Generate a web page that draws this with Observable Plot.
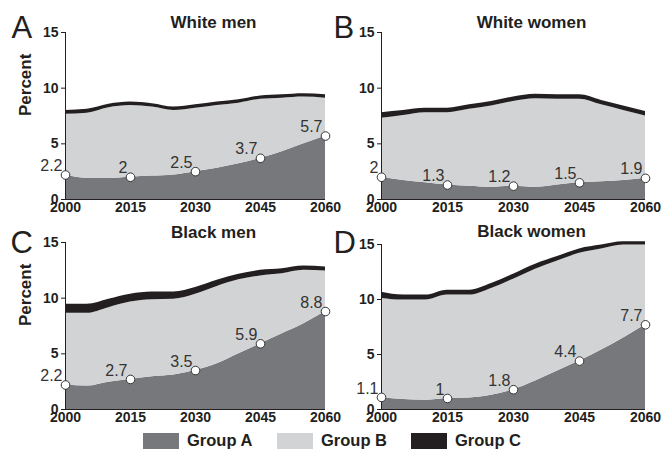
<!DOCTYPE html>
<html>
<head>
<meta charset="utf-8">
<script src="https://cdn.jsdelivr.net/npm/d3@7"></script>
<script src="https://cdn.jsdelivr.net/npm/@observablehq/plot@0.6"></script>
<style>
  html, body { margin: 0; padding: 0; background: #fff; }
  #chart { position: relative; width: 665px; height: 449px; overflow: hidden; font-family: "Liberation Sans", Arial, sans-serif; }
  #chart svg, #chart svg text { font-family: "Liberation Sans", Arial, sans-serif; }
  .panel { position: absolute; }
  .legend { position: absolute; top: 432px; left: 0; width: 665px; height: 17px; }
  .sw { position: absolute; top: 1px; width: 36px; height: 16px; }
  .lt { position: absolute; top: -1px; font-weight: bold; font-size: 16.5px; color: #231f20; line-height: 18px; }
</style>
</head>
<body>
<div id="chart"></div>
<script>
// ---- data ----
const years = [2000, 2005, 2010, 2015, 2020, 2025, 2030, 2035, 2040, 2045, 2050, 2055, 2060];
const labelYears = [2000, 2015, 2030, 2045, 2060];
const groups = ["Group A", "Group B", "Group C"];
const groupColors = ["#77787b", "#d1d3d4", "#231f20"];
const yTicks = [0, 5, 10, 15];

// White men
const whiteMenA = [2.2, 1.9, 1.9, 2.0, 2.1, 2.2, 2.5, 2.8, 3.2, 3.7, 4.3, 5.0, 5.7];
const whiteMenB = [5.45, 5.85, 6.35, 6.45, 6.2, 5.8, 5.7, 5.65, 5.45, 5.3, 4.8, 4.2, 3.4];
const whiteMenC = [0.35, 0.35, 0.3, 0.3, 0.3, 0.3, 0.3, 0.3, 0.3, 0.3, 0.3, 0.3, 0.3];
const whiteMenLabels = [2.2, 2, 2.5, 3.7, 5.7];

// White women
const whiteWomenA = [2.0, 1.7, 1.5, 1.3, 1.2, 1.1, 1.2, 1.1, 1.3, 1.5, 1.6, 1.7, 1.9];
const whiteWomenB = [5.3, 5.85, 6.3, 6.5, 6.9, 7.3, 7.6, 7.95, 7.7, 7.5, 6.9, 6.3, 5.6];
const whiteWomenC = [0.5, 0.45, 0.4, 0.4, 0.4, 0.4, 0.4, 0.4, 0.4, 0.4, 0.4, 0.4, 0.4];
const whiteWomenLabels = [2, 1.3, 1.2, 1.5, 1.9];

// Black men
const blackMenA = [2.2, 2.1, 2.45, 2.7, 2.95, 3.1, 3.5, 4.1, 5.0, 5.9, 6.8, 7.7, 8.8];
const blackMenB = [6.45, 6.55, 6.7, 6.95, 6.9, 6.8, 6.85, 6.95, 6.65, 6.1, 5.4, 4.8, 3.65];
const blackMenC = [0.8, 0.8, 0.75, 0.7, 0.7, 0.65, 0.6, 0.55, 0.5, 0.5, 0.45, 0.4, 0.35];
const blackMenLabels = [2.2, 2.7, 3.5, 5.9, 8.8];

// Black women
const blackWomenA = [1.1, 0.9, 0.85, 1.0, 1.05, 1.3, 1.8, 2.6, 3.5, 4.4, 5.4, 6.5, 7.7];
const blackWomenB = [9.0, 9.05, 9.1, 9.4, 9.35, 9.7, 10.05, 10.15, 10.0, 9.8, 9.2, 8.45, 7.25];
const blackWomenC = [0.55, 0.45, 0.45, 0.45, 0.45, 0.45, 0.45, 0.45, 0.4, 0.4, 0.35, 0.3, 0.3];
const blackWomenLabels = [1.1, 1, 1.8, 4.4, 7.7];

const panels = [
  {letter: "A", title: "White men", a: whiteMenA, b: whiteMenB, c: whiteMenC, labels: whiteMenLabels, ylabel: true},
  {letter: "B", title: "White women", a: whiteWomenA, b: whiteWomenB, c: whiteWomenC, labels: whiteWomenLabels, ylabel: false},
  {letter: "C", title: "Black men", a: blackMenA, b: blackMenB, c: blackMenC, labels: blackMenLabels, ylabel: true},
  {letter: "D", title: "Black women", a: blackWomenA, b: blackWomenB, c: blackWomenC, labels: blackWomenLabels, ylabel: false}
];

// layout (positions only)
const layout = [
  {left: 0,   top: 0,   width: 332, mL: 65, mR: 7,  mT: 32, letterDx: -54, letterDy: 5,  titleDy: -5},
  {left: 332, top: 0,   width: 333, mL: 49, mR: 20, mT: 32, letterDx: -48, letterDy: 5,  titleDy: -5},
  {left: 0,   top: 210, width: 332, mL: 65, mR: 7,  mT: 32, letterDx: -55, letterDy: 10, titleDy: -5},
  {left: 332, top: 210, width: 333, mL: 49, mR: 20, mT: 34, letterDx: -48, letterDy: 8,  titleDy: -8}
];

const chart = document.getElementById("chart");
const font = "'Liberation Sans', Arial, sans-serif";

panels.forEach((p, i) => {
  const L = layout[i];
  const rows = [];
  [p.a, p.b, p.c].forEach((arr, gi) => {
    arr.forEach((v, k) => rows.push({year: years[k], group: groups[gi], value: v}));
  });
  const pts = labelYears.map((yr, k) => ({year: yr, value: p.labels[k]}));

  const marks = [
    Plot.areaY(rows, {x: "year", y: "value", fill: "group", curve: "monotone-x", order: groups}),
    Plot.ruleX([2000], {y1: 0, y2: 15, stroke: "#231f20", strokeWidth: 1}),
    Plot.ruleY([0], {x1: 2000, x2: 2060, stroke: "#231f20", strokeWidth: 1}),
    Plot.axisY({ticks: yTicks, tickSize: 4, tickPadding: 3, fontSize: 14, fontWeight: "bold", label: null}),
    Plot.axisX({ticks: labelYears, tickSize: 0, tickPadding: 3, fontSize: 14, fontWeight: "bold", label: null, tickFormat: d => String(d)}),
    Plot.dot(pts, {x: "year", y: "value", r: 4.3, fill: "white", stroke: "#333", strokeWidth: 1}),
    Plot.text(pts, {x: "year", y: "value", text: d => String(d.value), textAnchor: "end", dx: -3, dy: -9, fontSize: 16, fill: "#333"}),
    Plot.text([p.title], {frameAnchor: "top", dx: 18, dy: L.titleDy, lineAnchor: "bottom", fontSize: 17, fontWeight: "bold", fill: "#231f20"}),
    Plot.text([p.letter], {frameAnchor: "top-left", textAnchor: "start", lineAnchor: "bottom", dx: L.letterDx, dy: L.letterDy, fontSize: 31, fill: "#231f20"})
  ];
  if (p.ylabel) {
    marks.push(Plot.text(["Percent"], {frameAnchor: "left", dx: -40, rotate: -90, fontSize: 17, fontWeight: "bold", fill: "#231f20"}));
  }

  const svg = Plot.plot({
    width: L.width,
    height: 222,
    marginLeft: L.mL,
    marginRight: L.mR,
    marginTop: L.mT,
    marginBottom: 23,
    x: {domain: [2000, 2060]},
    y: {domain: [0, 15]},
    color: {domain: groups, range: groupColors},
    style: {fontFamily: font, background: "transparent", overflow: "visible", color: "#231f20"},
    marks
  });
  svg.classList.add("panel");
  svg.style.left = L.left + "px";
  svg.style.top = L.top + "px";
  chart.appendChild(svg);
});

// legend
const legend = document.createElement("div");
legend.className = "legend";
const legendPos = [{sw: 143, tx: 187}, {sw: 277, tx: 321}, {sw: 411, tx: 455}];
groups.forEach((g, i) => {
  const sw = document.createElement("div");
  sw.className = "sw";
  sw.style.left = legendPos[i].sw + "px";
  sw.style.background = groupColors[i];
  const t = document.createElement("div");
  t.className = "lt";
  t.style.left = legendPos[i].tx + "px";
  t.textContent = g;
  legend.appendChild(sw);
  legend.appendChild(t);
});
chart.appendChild(legend);
</script>
</body>
</html>
